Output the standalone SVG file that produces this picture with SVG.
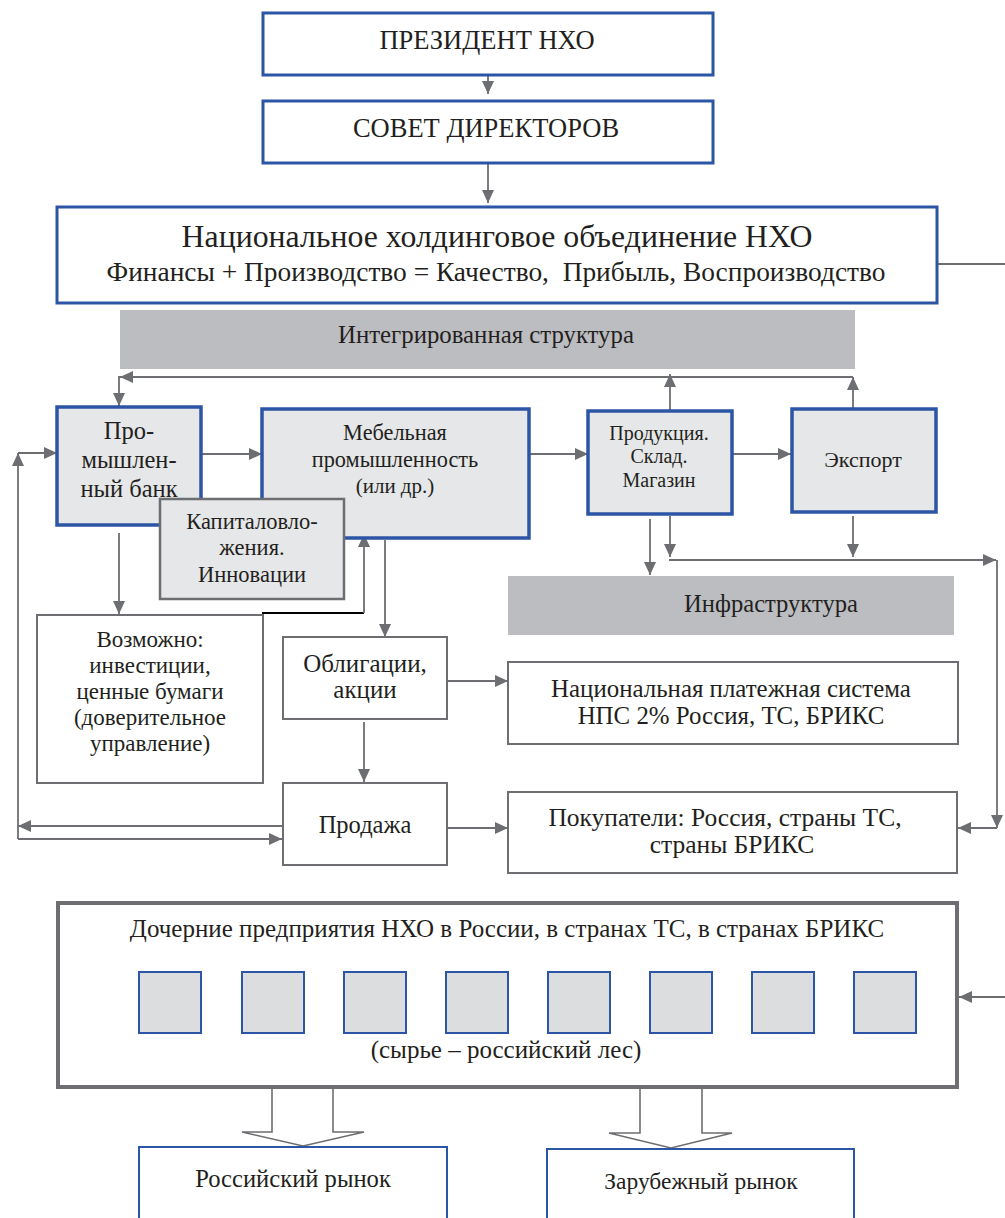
<svg xmlns="http://www.w3.org/2000/svg" width="1005" height="1218" viewBox="0 0 1005 1218">
  <style>
    text { fill: #231f20; text-anchor: middle; font-family: "Liberation Serif", "Times New Roman", serif; }
    .blue { fill: #ffffff; stroke: #2d55a5; stroke-width: 3; }
    .blueg { fill: #e6e7e8; stroke: #2d55a5; stroke-width: 3.5; }
    .gbox { fill: #ffffff; stroke: #6d6e71; stroke-width: 2; }
    .gboxf { fill: #e6e7e8; stroke: #6d6e71; stroke-width: 2.5; }
    .band { fill: #bcbdc0; }
    .sq { fill: #dcdddf; stroke: #2d55a5; stroke-width: 2; }
    .c { fill: none; stroke: #6d6e71; stroke-width: 1.8; }
    .blk { fill: none; stroke: #000000; stroke-width: 2; }
    .big { fill: #ffffff; stroke: #6d6e71; stroke-width: 1.6; }
  </style>
  <defs>
    <marker id="ah" markerUnits="userSpaceOnUse" markerWidth="13" markerHeight="12" refX="13" refY="6" orient="auto">
      <path d="M0,0 L13,6 L0,12 z" fill="#6d6e71"/>
    </marker>
  </defs>

  <!-- connectors -->
  <g id="connectors">
    <line class="c" x1="488" y1="76" x2="488" y2="94" marker-end="url(#ah)"/>
    <line class="c" x1="488" y1="164" x2="488" y2="203" marker-end="url(#ah)"/>
    <line class="c" x1="938" y1="264" x2="1005" y2="264"/>
    <!-- integrated structure loop -->
    <polyline class="c" points="853,377 119,377 119,406" marker-end="url(#ah)"/>
    <line class="c" x1="135" y1="377" x2="120" y2="377" marker-end="url(#ah)"/>
    <line class="c" x1="670" y1="410" x2="670" y2="374" marker-end="url(#ah)"/>
    <line class="c" x1="853" y1="408" x2="853" y2="377" marker-end="url(#ah)"/>
    <!-- main chain -->
    <line class="c" x1="202" y1="454" x2="262" y2="454" marker-end="url(#ah)"/>
    <line class="c" x1="529" y1="454" x2="588" y2="454" marker-end="url(#ah)"/>
    <line class="c" x1="733" y1="454" x2="791" y2="454" marker-end="url(#ah)"/>
    <!-- outputs of product / export -->
    <line class="c" x1="650" y1="519" x2="650" y2="575" marker-end="url(#ah)"/>
    <line class="c" x1="670" y1="516" x2="670" y2="557" marker-end="url(#ah)"/>
    <line class="c" x1="853" y1="516" x2="853" y2="557" marker-end="url(#ah)"/>
    <line class="c" x1="669" y1="560" x2="996" y2="560" marker-end="url(#ah)"/>
    <line class="c" x1="997" y1="560" x2="997" y2="828" marker-end="url(#ah)"/>
    <line class="c" x1="997" y1="828" x2="958" y2="828" marker-end="url(#ah)"/>
    <!-- bank / investment -->
    <line class="c" x1="119" y1="533" x2="119" y2="614" marker-end="url(#ah)"/>
    <line class="blk" x1="262" y1="613" x2="364" y2="613"/>
    <line class="c" x1="364" y1="613" x2="364" y2="534" marker-end="url(#ah)"/>
    <line class="c" x1="385" y1="540" x2="385" y2="637" marker-end="url(#ah)"/>
    <line class="c" x1="447" y1="681" x2="508" y2="681" marker-end="url(#ah)"/>
    <line class="c" x1="364" y1="722" x2="364" y2="782" marker-end="url(#ah)"/>
    <line class="c" x1="447" y1="828" x2="508" y2="828" marker-end="url(#ah)"/>
    <!-- sales loop back to the bank -->
    <line class="c" x1="283" y1="826" x2="18" y2="826" marker-end="url(#ah)"/>
    <polyline class="c" points="18,839 18,453" marker-end="url(#ah)"/>
    <line class="c" x1="18" y1="839" x2="282" y2="839" marker-end="url(#ah)"/>
    <line class="c" x1="18" y1="453" x2="57" y2="453" marker-end="url(#ah)"/>
    <!-- holding to subsidiaries -->
    <line class="c" x1="1005" y1="997" x2="959" y2="997" marker-end="url(#ah)"/>
    <!-- block arrows to markets -->
    <path class="big" d="M272,1089 V1132 H242 L303,1146 L364,1132 H333 V1089"/>
    <path class="big" d="M640,1089 V1133 H609 L671,1148 L732,1133 H702 V1089"/>
  </g>

  <g id="president">
    <rect class="blue" x="263" y="13" width="450" height="62"/>
    <text x="487" y="49" font-size="26.5">ПРЕЗИДЕНТ НХО</text>
  </g>
  <g id="council">
    <rect class="blue" x="263" y="101" width="450" height="62"/>
    <text x="486" y="137" font-size="26.5">СОВЕТ ДИРЕКТОРОВ</text>
  </g>
  <g id="holding">
    <rect class="blue" x="57" y="207" width="880" height="96"/>
    <text x="497" y="247" font-size="31.8">Национальное холдинговое объединение НХО</text>
    <text x="496" y="281" font-size="27.4" xml:space="preserve">Финансы + Производство = Качество,  Прибыль, Воспроизводство</text>
  </g>
  <g id="integrated">
    <rect class="band" x="120" y="310" width="735" height="59"/>
    <text x="486" y="343" font-size="24.8">Интегрированная структура</text>
  </g>
  <g id="bank">
    <rect class="blueg" x="57" y="407" width="144" height="118"/>
    <text x="129" y="439" font-size="24.5">Про-</text>
    <text x="129" y="468" font-size="24.5">мышлен-</text>
    <text x="129" y="497" font-size="24.5">ный банк</text>
  </g>
  <g id="furniture">
    <rect class="blueg" x="262" y="409" width="267" height="129"/>
    <text x="395" y="440" font-size="22.3">Мебельная</text>
    <text x="395" y="467" font-size="22.3">промышленность</text>
    <text x="395" y="493" font-size="21">(или др.)</text>
  </g>
  <g id="capital">
    <rect class="gboxf" x="160" y="499" width="184" height="100"/>
    <text x="252" y="529" font-size="22.5">Капиталовло-</text>
    <text x="252" y="555" font-size="22.5">жения.</text>
    <text x="252" y="582" font-size="22.5">Инновации</text>
  </g>
  <g id="product">
    <rect class="blueg" x="588" y="411" width="144" height="103"/>
    <text x="659" y="440" font-size="20">Продукция.</text>
    <text x="659" y="463" font-size="20">Склад.</text>
    <text x="659" y="487" font-size="20">Магазин</text>
  </g>
  <g id="export">
    <rect class="blueg" x="792" y="409" width="144" height="103"/>
    <text x="863" y="467" font-size="22">Экспорт</text>
  </g>
  <g id="infrastructure">
    <rect class="band" x="508" y="576" width="446" height="59"/>
    <text x="771" y="612" font-size="24.6">Инфраструктура</text>
  </g>
  <g id="investments">
    <rect class="gbox" x="37" y="615" width="226" height="168"/>
    <text x="150" y="647" font-size="23">Возможно:</text>
    <text x="150" y="673" font-size="23">инвестиции,</text>
    <text x="150" y="699" font-size="23">ценные бумаги</text>
    <text x="150" y="725" font-size="23">(доверительное</text>
    <text x="150" y="751" font-size="23">управление)</text>
  </g>
  <g id="bonds">
    <rect class="gbox" x="283" y="637" width="164" height="82"/>
    <text x="365" y="672" font-size="25">Облигации,</text>
    <text x="365" y="698" font-size="25">акции</text>
  </g>
  <g id="payment">
    <rect class="gbox" x="508" y="662" width="450" height="82"/>
    <text x="731" y="697" font-size="24.9">Национальная платежная система</text>
    <text x="731" y="724" font-size="24.9">НПС 2% Россия, ТС, БРИКС</text>
  </g>
  <g id="sales">
    <rect class="gbox" x="283" y="783" width="164" height="82"/>
    <text x="365" y="833" font-size="24.5">Продажа</text>
  </g>
  <g id="buyers">
    <rect class="gbox" x="508" y="792" width="449" height="81"/>
    <text x="725" y="826" font-size="25.5">Покупатели: Россия, страны ТС,</text>
    <text x="732" y="853" font-size="25.5">страны БРИКС</text>
  </g>
  <g id="subsidiaries">
    <rect fill="#ffffff" stroke="#6d6e71" stroke-width="4" x="58" y="903" width="899" height="184"/>
    <text x="507" y="937" font-size="25">Дочерние предприятия НХО в России, в странах ТС, в странах БРИКС</text>
    <rect class="sq" x="139" y="972" width="62" height="61"/>
    <rect class="sq" x="242" y="972" width="62" height="61"/>
    <rect class="sq" x="344" y="972" width="62" height="61"/>
    <rect class="sq" x="446" y="972" width="62" height="61"/>
    <rect class="sq" x="548" y="972" width="62" height="61"/>
    <rect class="sq" x="650" y="972" width="62" height="61"/>
    <rect class="sq" x="752" y="972" width="62" height="61"/>
    <rect class="sq" x="854" y="972" width="62" height="61"/>
    <text x="506" y="1058" font-size="25">(сырье – российский лес)</text>
  </g>
  <g id="domestic-market">
    <rect fill="#ffffff" stroke="#2d55a5" stroke-width="2" x="139" y="1147" width="308" height="90"/>
    <text x="293" y="1187" font-size="24.6">Российский рынок</text>
  </g>
  <g id="foreign-market">
    <rect fill="#ffffff" stroke="#2d55a5" stroke-width="2" x="547" y="1149" width="307" height="90"/>
    <text x="701" y="1189" font-size="23.5">Зарубежный рынок</text>
  </g>
</svg>
